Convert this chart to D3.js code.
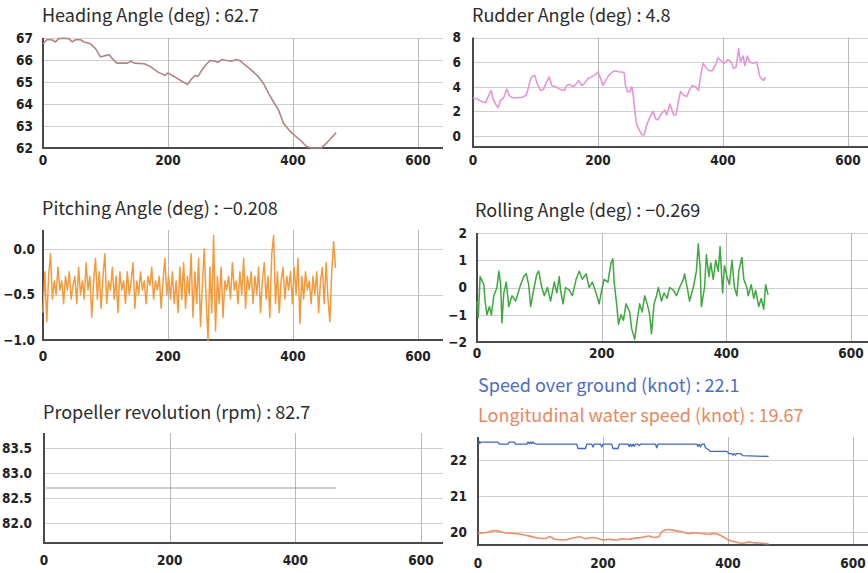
<!DOCTYPE html>
<html>
<head>
<meta charset="utf-8">
<script src="https://cdn.jsdelivr.net/npm/d3@7"></script>
<style>
  html, body { margin: 0; padding: 0; background: #fff; }
  svg { display: block; }
  .title { font-family: "Noto Sans CJK JP", "Noto Sans", sans-serif; font-size: 18px; fill: #2b2b2b; }
  .tick-label { font-family: "Liberation Sans Narrow", "DejaVu Sans Condensed", sans-serif; font-stretch: condensed; font-weight: bold; font-size: 13.5px; fill: #222; }
</style>
</head>
<body>
<svg id="chart" width="868" height="573"></svg>
<script>
// ---- ship monitoring data (time in seconds) ----
const xTicks = [0, 200, 400, 600];

const headingTime = [0,6,14,20,25,33,41,47,52,60,66,76,84,92,101,106,111,118,135,141,146,162,173,184,195,200,211,224,231,238,244,248,254,260,267,275,280,286,294,302,310,316,324,334,345,353,361,369,377,385,394,402,412,418,423,431,445,450,458,469];
const headingDeg = [66.74,66.92,66.92,66.82,66.97,66.99,66.97,66.82,66.92,66.92,66.82,66.74,66.52,66.14,66.21,66.24,66.06,65.86,65.86,65.95,65.86,65.83,65.68,65.45,65.30,65.41,65.23,65.00,64.89,65.15,65.30,65.26,65.53,65.76,65.98,65.95,65.89,66.02,65.98,65.95,66.02,65.95,65.76,65.53,65.23,64.92,64.47,64.09,63.71,63.11,62.80,62.58,62.35,62.17,62.05,62.00,62.00,62.12,62.35,62.7];
const headingTicks = [62, 63, 64, 65, 66, 67];

const rudderTime = [0,6,14,20,25,29,32,36,40,44,49,54,58,63,71,79,85,88,92,95,99,103,108,113,117,122,126,132,139,146,150,155,159,163,169,174,179,185,190,196,200,204,208,212,217,223,228,234,239,242,244,247,251,254,256,259,262,266,270,274,278,282,288,292,296,301,307,310,315,321,325,329,332,337,342,347,351,356,361,364,368,372,378,383,389,392,397,402,408,413,417,421,425,428,432,435,439,443,448,454,457,459,465,468];
const rudderDeg = [3.1,3.0,2.8,2.7,3.3,3.7,3.0,2.6,2.3,2.9,3.1,3.8,3.3,3.1,3.1,3.15,3.3,3.8,4.6,4.85,4.9,4.2,3.7,3.8,4.3,4.8,4.1,4.0,3.8,3.7,4.1,4.2,4.0,4.1,4.5,4.1,4.3,4.7,4.8,5.0,5.2,4.7,4.1,4.5,4.9,5.2,5.3,5.2,5.2,5.1,4.1,3.6,3.6,4.0,3.5,2.0,0.9,0.5,0.1,0.1,0.9,1.4,2.0,1.4,1.3,1.8,2.1,1.7,2.6,1.7,1.7,2.9,3.6,3.3,3.2,3.8,4.1,4.0,3.7,4.8,5.9,5.6,5.3,5.3,5.9,6.35,6.1,5.9,6.2,6.0,5.5,5.6,7.1,6.0,6.5,5.7,6.5,6.0,5.9,6.0,5.3,4.8,4.5,4.8];
const rudderTicks = [0, 2, 4, 6, 8];

// pitching is logged every 3 s
const pitchSampleStep = 3;
const pitchDeg = [
  -0.70,-0.25,-0.80,-0.30,-0.05,-0.55,-0.35,-0.50,-0.20,-0.45,
  -0.35,-0.60,-0.30,-0.45,-0.25,-0.55,-0.40,-0.30,-0.60,-0.20,
  -0.50,-0.35,-0.55,-0.15,-0.45,-0.30,-0.75,-0.35,-0.10,-0.55,
  -0.25,-0.65,-0.30,-0.05,-0.60,-0.35,-0.45,-0.20,-0.55,-0.30,
  -0.70,-0.25,-0.45,-0.35,-0.60,-0.25,-0.50,-0.35,-0.15,-0.65,
  -0.35,-0.50,-0.25,-0.45,-0.35,-0.60,-0.30,-0.40,-0.20,-0.55,
  -0.35,-0.45,-0.30,-0.65,-0.35,-0.10,-0.50,-0.30,-0.55,-0.25,
  -0.60,-0.35,-0.70,-0.20,-0.55,-0.15,-0.65,-0.30,-0.50,-0.05,
  -0.75,-0.25,-0.60,-0.10,-0.85,-0.40, 0.00,-0.55,-1.00,-0.20,
  -0.70, 0.15,-0.90,-0.30,-0.60,-0.20,-0.75,-0.35,-0.45,-0.30,
  -0.55,-0.15,-0.45,-0.35,-0.60,-0.25,-0.50,-0.10,-0.65,-0.30,
  -0.45,-0.25,-0.60,-0.30,-0.50,-0.20,-0.70,-0.35,-0.15,-0.55,
  -0.30,-0.75,-0.05, 0.15,-0.60,-0.25,-0.70,-0.35,-0.20,-0.55,
  -0.30,-0.45,-0.25,-0.60,-0.20,-0.50,-0.10,-0.82,-0.30,-0.55,
  -0.25,-0.45,-0.35,-0.60,-0.30,-0.50,-0.25,-0.70,-0.35,-0.20,
  -0.60,-0.15,-0.55,-0.80,-0.25, 0.08,-0.208
];
const pitchTicks = [-1.0, -0.5, 0.0];

const rollTime = [0,2,5,11,13,16,20,23,27,32,35,38,40,43,47,51,56,62,66,70,75,79,83,86,90,96,99,104,108,113,118,124,128,132,134,138,142,148,153,159,164,169,175,180,185,191,196,200,204,210,215,218,220,224,227,231,235,239,245,248,253,257,261,265,269,273,277,280,284,288,291,296,300,305,309,315,320,325,331,333,338,341,347,352,355,358,360,365,368,372,375,379,383,387,390,394,397,401,405,409,413,417,420,425,428,433,435,440,444,447,452,456,460,463,467];
const rollDeg = [-0.5,-1.1,0.4,0.1,-0.5,-1.0,-0.7,-1.0,-0.3,0.0,0.6,0.1,-1.3,-0.2,0.2,-0.7,-0.3,-0.5,-0.2,0.1,0.4,0.5,0.1,-0.7,-0.2,0.5,0.6,0.0,-0.3,0.0,-0.5,0.2,-0.2,0.4,-0.1,-0.6,0.0,-0.1,-0.3,0.3,0.6,0.3,0.5,0.0,0.2,-0.2,-0.6,-0.1,0.3,0.2,0.9,1.05,0.2,-0.6,-1.35,-1.0,-1.2,-0.6,-0.9,-1.5,-1.9,-1.2,-0.6,-0.9,-0.3,-0.6,-1.0,-1.7,-0.6,-0.3,0.0,-0.5,-0.2,-0.4,0.0,-0.1,-0.3,0.0,0.3,0.5,-0.1,-0.5,0.0,0.6,1.6,0.7,-0.7,0.0,1.2,0.4,0.9,0.3,1.0,0.6,1.5,-0.2,0.8,0.4,0.1,1.0,0.0,-0.3,0.6,1.1,0.3,0.0,-0.3,0.1,-0.4,-0.1,-0.7,-0.4,-0.8,0.1,-0.269];
const rollTicks = [-2, -1, 0, 1, 2];

const propTime = [0, 465];
const propRpm = [82.7, 82.7];
const propTicks = [82.0, 82.5, 83.0, 83.5];

const sogTime = [0,2,3,4,32,34,48,50,58,60,78,80,82,84,86,88,90,94,158,160,172,174,182,184,186,196,198,200,214,216,224,226,240,242,244,246,248,250,252,256,258,260,284,286,288,350,352,354,356,358,362,364,368,372,398,402,406,408,410,412,414,420,424,465];
const sogKnot = [22.44,22.52,22.46,22.5,22.5,22.44,22.44,22.5,22.5,22.44,22.44,22.5,22.46,22.5,22.46,22.5,22.46,22.44,22.44,22.32,22.32,22.44,22.44,22.36,22.44,22.44,22.36,22.44,22.44,22.32,22.32,22.44,22.44,22.38,22.44,22.38,22.44,22.38,22.44,22.44,22.4,22.44,22.44,22.34,22.44,22.44,22.38,22.44,22.36,22.44,22.44,22.34,22.3,22.24,22.24,22.18,22.18,22.14,22.18,22.14,22.18,22.18,22.12,22.1];
const waterTime = [0,11,27,43,59,75,91,107,115,123,139,155,163,171,182,193,201,209,219,230,241,251,262,273,281,289,294,305,315,326,337,347,358,369,379,390,401,411,422,433,443,454,465];
const waterKnot = [19.96,19.98,20.04,19.98,19.96,19.92,19.85,19.82,19.87,19.80,19.78,19.85,19.87,19.82,19.85,19.82,19.78,19.80,19.78,19.81,19.80,19.83,19.85,19.89,19.85,19.87,20.01,20.07,20.04,20.01,19.96,19.98,19.96,19.94,19.96,19.89,19.78,19.73,19.69,19.72,19.70,19.69,19.67];
const speedTicks = [20, 21, 22];

// ---- panel layout ----
const panels = [
  { titles: [{ text: "Heading Angle (deg) : " + headingDeg[headingDeg.length - 1], x: 42, y: 22, color: "#2b2b2b" }],
    x0: 43, x600: 418, right: 443, yDomain: [62, 67], yRange: [148, 38], yTicks: headingTicks, yFmt: d3.format("d"),
    yLabelGap: 10, xLabelY: 165,
    series: [{ t: headingTime, v: headingDeg, color: "#b48484", width: 1.6 }] },
  { titles: [{ text: "Rudder Angle (deg) : " + rudderDeg[rudderDeg.length - 1], x: 472, y: 22, color: "#2b2b2b" }],
    x0: 473, x600: 848, right: 868, yDomain: [-0.9, 8], yRange: [147, 37.5], yTicks: rudderTicks, yFmt: d3.format("d"),
    yLabelGap: 12, xLabelY: 165,
    series: [{ t: rudderTime, v: rudderDeg, color: "#e595d8", width: 1.6 }] },
  { titles: [{ text: "Pitching Angle (deg) : \u22120.208", x: 42, y: 215, color: "#2b2b2b" }],
    x0: 43, x600: 418, right: 443, yDomain: [-1.0, 0.21], yRange: [340, 230], yTicks: pitchTicks, yFmt: d3.format(".1f"),
    yLabelGap: 8, xLabelY: 361,
    series: [{ t: pitchDeg.map((_, i) => i * pitchSampleStep), v: pitchDeg, color: "#f39a3c", width: 1.5 }] },
  { titles: [{ text: "Rolling Angle (deg) : \u22120.269", x: 475, y: 217, color: "#2b2b2b" }],
    x0: 477, x600: 851, right: 868, yDomain: [-2, 2], yRange: [342, 233], yTicks: rollTicks, yFmt: d3.format("d"),
    yLabelGap: 10, xLabelY: 358,
    series: [{ t: rollTime, v: rollDeg, color: "#3da83d", width: 1.5 }] },
  { titles: [{ text: "Propeller revolution (rpm) : " + propRpm[propRpm.length - 1], x: 43, y: 419, color: "#2b2b2b" }],
    x0: 44, x600: 421, right: 443, yDomain: [81.6, 83.8], yRange: [543, 433], yTicks: propTicks, yFmt: d3.format(".1f"),
    yLabelGap: 12, xLabelY: 565,
    series: [{ t: propTime, v: propRpm, color: "#a0a0a0", width: 1.2 }] },
  { titles: [
      { text: "Speed over ground (knot) : " + sogKnot[sogKnot.length - 1], x: 478, y: 392, color: "#4a6cc8" },
      { text: "Longitudinal water speed (knot) : " + waterKnot[waterKnot.length - 1], x: 478, y: 422, color: "#e9875e" }],
    x0: 478, x600: 853, right: 868, yDomain: [19.64, 22.64], yRange: [545, 437], yTicks: speedTicks, yFmt: d3.format("d"),
    yLabelGap: 11, xLabelY: 568,
    series: [
      { t: sogTime, v: sogKnot, color: "#4166c6", width: 1.3 },
      { t: waterTime, v: waterKnot, color: "#ee8c66", width: 1.6, curve: d3.curveMonotoneX }] }
];

const svg = d3.select("#chart");

panels.forEach(p => {
  const x = d3.scaleLinear().domain([0, 600]).range([p.x0, p.x600]);
  const y = d3.scaleLinear().domain(p.yDomain).range(p.yRange);
  const top = p.yRange[1], bottom = p.yRange[0];
  const g = svg.append("g");

  // horizontal grid
  g.selectAll("line.hgrid").data(p.yTicks).join("line")
    .attr("x1", p.x0).attr("x2", p.right)
    .attr("y1", d => Math.round(y(d)) + 0.5).attr("y2", d => Math.round(y(d)) + 0.5)
    .attr("stroke", "#cfcfcf").attr("stroke-width", 1.2);

  // vertical grid
  g.selectAll("line.vgrid").data(xTicks.filter(d => d > 0)).join("line")
    .attr("x1", d => Math.round(x(d)) + 0.5).attr("x2", d => Math.round(x(d)) + 0.5)
    .attr("y1", top).attr("y2", bottom)
    .attr("stroke", "#b9b9b9").attr("stroke-width", 1);

  // axis lines
  g.append("line").attr("x1", p.x0).attr("x2", p.x0).attr("y1", top).attr("y2", bottom + 1)
    .attr("stroke", "#4a4a4a").attr("stroke-width", 2);
  g.append("line").attr("x1", p.x0 - 1).attr("x2", p.right).attr("y1", bottom).attr("y2", bottom)
    .attr("stroke", "#4a4a4a").attr("stroke-width", 2);

  // tick labels
  g.selectAll("text.ylab").data(p.yTicks).join("text")
    .attr("class", "tick-label")
    .attr("x", p.x0 - p.yLabelGap).attr("y", d => y(d))
    .attr("dy", "0.36em").attr("text-anchor", "end")
    .text(p.yFmt);
  g.selectAll("text.xlab").data(xTicks).join("text")
    .attr("class", "tick-label")
    .attr("x", d => x(d)).attr("y", p.xLabelY)
    .attr("text-anchor", "middle")
    .text(d3.format("d"));

  // data lines
  p.series.forEach(s => {
    const pts = s.t.map((t, i) => [t, s.v[i]]);
    const line = d3.line().x(d => x(d[0])).y(d => y(d[1])).curve(s.curve || d3.curveLinear);
    g.append("path").attr("d", line(pts))
      .attr("fill", "none").attr("stroke", s.color)
      .attr("stroke-width", s.width).attr("stroke-linejoin", "round");
  });

  // titles
  p.titles.forEach(tt => {
    svg.append("text").attr("class", "title")
      .attr("x", tt.x).attr("y", tt.y).style("fill", tt.color)
      .text(tt.text);
  });
});
</script>
</body>
</html>
